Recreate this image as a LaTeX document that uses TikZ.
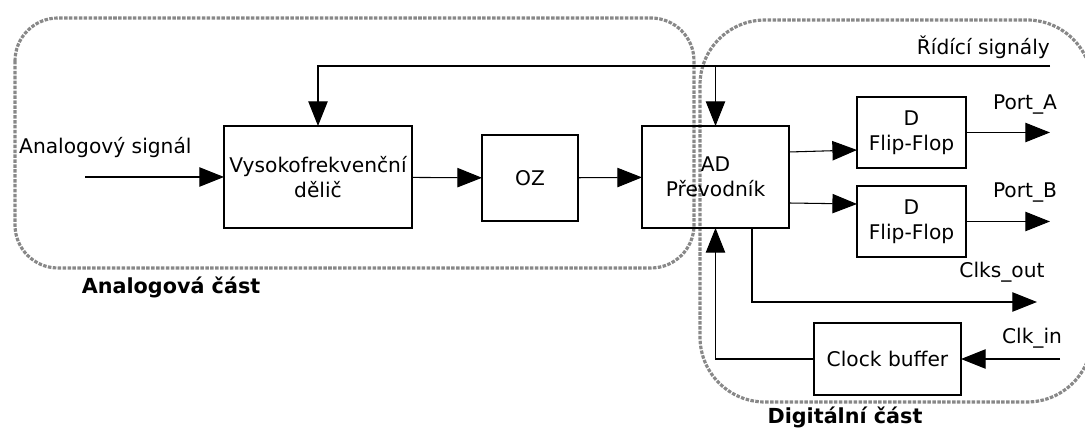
\documentclass[tikz,border=0pt]{standalone}
\usepackage{fontspec}
\setmainfont{DejaVu Sans}
\usetikzlibrary{arrows.meta}
\definecolor{sedaoblast}{RGB}{136,136,136}

\begin{document}
\begin{tikzpicture}[x=0.02cm, y=-0.02cm,
  font=\fontsize{11.5}{14}\selectfont,
  blok/.style={draw, line width=0.6pt, inner sep=0pt, outer sep=0pt, align=center},
  sipka/.style={line width=0.6pt, -{Triangle[length=14pt, width=11pt]}},
  oblast/.style={draw=sedaoblast, line width=1.8pt, dash pattern=on 2pt off 0.8pt},
  popis/.style={font=\fontsize{11.8}{15}\selectfont\bfseries}]

 \useasboundingbox (0,0) rectangle (1085,428);

 %%%  oblasti

 % analogova a digitalni cast
 \draw [oblast, rounded corners=0.86cm] (15,18) rectangle (694,268);
 \draw [oblast, rounded corners=1.3cm] (700,20) rectangle (1092,402);
 \node [popis] (analogcast) at (171,287) {Analogová část};
 \node [popis] (digitcast) at (845,417) {Digitální část};

 %%%  nodes

 % bloky
 \node [blok, minimum width=3.76cm, minimum height=2.04cm] (vys) at (318,177) {Vysokofrekvenční\\dělič};
 \node [blok, minimum width=1.92cm, minimum height=1.72cm] (oz) at (530,178) {OZ};
 \node [blok, minimum width=2.94cm, minimum height=2.04cm] (ad) at (715.5,177) {AD\\Převodník};
 \node [blok, minimum width=2.18cm, minimum height=1.42cm] (ffa) at (911.5,132.5) {D\\Flip-Flop};
 \node [blok, minimum width=2.18cm, minimum height=1.42cm] (ffb) at (911.5,221.5) {D\\Flip-Flop};
 \node [blok, minimum width=2.94cm, minimum height=1.44cm] (clkbuf) at (887.5,359) {Clock buffer};

 % volne konce
 \coordinate (vstup) at (85,177);
 \coordinate (ridici) at (1050,66);
 \coordinate (porta) at (1050,132.5);
 \coordinate (portb) at (1050,221.5);
 \coordinate (clksout) at (1037,302);
 \coordinate (clkin) at (1060,359);

 % texty signalu
 \node [anchor=west] (lblvstup) at (13,148) {Analogový signál};
 \node [anchor=east] (lblridici) at (1056,47) {Řídící signály};
 \node (lblporta) at (1025,105) {Port\_A};
 \node (lblportb) at (1025,193) {Port\_B};
 \node (lblclksout) at (1002,272) {Clks\_out};
 \node (lblclkin) at (1032,338) {Clk\_in};

 %%%  spoje

 \draw [sipka] (vstup) to (vys);
 \draw [sipka] (vys) to (oz);
 \draw [sipka] (oz) to (ad);
 \draw [sipka] (ridici) -| (vys);
 \draw [sipka] (ad.north |- ridici) to (ad);
 \draw [sipka] (ad.east |- 0,152) to (ffa.west |- 0,150);
 \draw [sipka] (ad.east |- 0,203) to (ffb.west |- 0,204);
 \draw [sipka] (ffa) to (porta);
 \draw [sipka] (ffb) to (portb);
 \draw [sipka] (ad.south -| 752,0) |- (clksout);
 \draw [sipka] (clkin) to (clkbuf);
 \draw [sipka] (clkbuf) -| (ad);

\end{tikzpicture}
\end{document}
